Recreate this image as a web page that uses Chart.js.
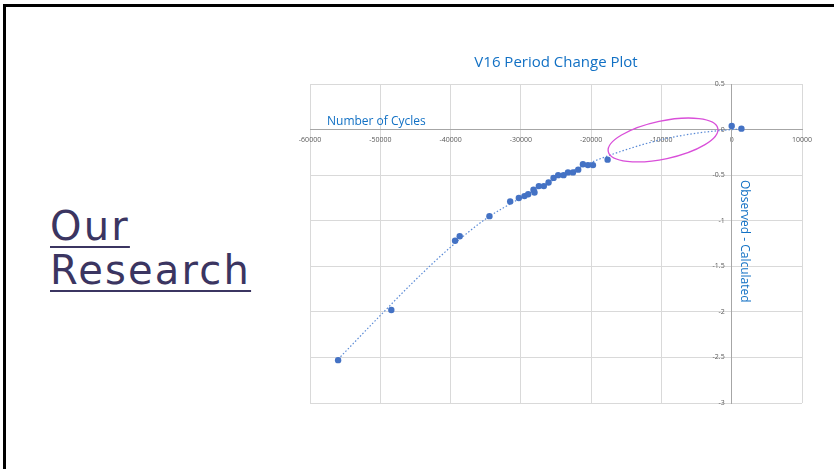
<!DOCTYPE html>
<html><head><meta charset="utf-8">
<script src="https://cdn.jsdelivr.net/npm/chart.js@4.4.1/dist/chart.umd.min.js"></script>
<style>
html,body{margin:0;padding:0;background:#fff;width:834px;height:469px;overflow:hidden;}
#frame{position:absolute;left:3px;top:4px;width:840px;height:480px;border-top:3px solid #000;border-left:3px solid #000;box-sizing:border-box;}
#c{position:absolute;left:0;top:0;}
.lbl{position:absolute;font-family:'Open Sans',sans-serif;color:#1170C4;white-space:nowrap;font-size:12px;line-height:16px;}
#ylab{left:737px;top:180px;writing-mode:vertical-rl;}
#xlab{left:327px;top:113px;}
#heading{position:absolute;left:50px;top:204px;font-family:'DejaVu Sans',sans-serif;font-size:40px;line-height:44px;letter-spacing:2.2px;color:#3B3561;}
#heading span{text-decoration:underline;text-decoration-thickness:2px;text-underline-offset:6px;}
</style></head>
<body>
<div id="frame"></div>
<div id="heading"><span>Our</span><br><span>Research</span></div>
<canvas id="c" width="834" height="469"></canvas>
<div class="lbl" id="xlab">Number of Cycles</div>
<div class="lbl" id="ylab">Observed - Calculated</div>
<script>
// observed points: cycle number (E) and O-C (days)
const cycles = [-56000,-48430,-39360,-38700,-34470,-31520,-30290,-29490,-28960,-28200,-28060,-27440,-26730,-26060,-25350,-24690,-23930,-23300,-22590,-21840,-21170,-20460,-19740,-17660,0,1380];
const oMinusC = [-2.53,-1.98,-1.22,-1.17,-0.95,-0.79,-0.75,-0.73,-0.71,-0.66,-0.69,-0.62,-0.62,-0.58,-0.53,-0.50,-0.50,-0.47,-0.47,-0.44,-0.38,-0.39,-0.39,-0.33,0.04,0.01];
// trendline
const trendCycles = [-56000,-50000,-45000,-40000,-35000,-30000,-25000,-20000,-15000,-10000,-5000,0,1400];
const trendValues = [-2.52,-2.04,-1.65,-1.29,-0.98,-0.75,-0.54,-0.36,-0.22,-0.11,-0.04,0.0,0.005];
const chartTitle = 'V16 Period Change Plot';

const pts = cycles.map((c,i)=>({x:c,y:oMinusC[i]}));
const trend = trendCycles.map((c,i)=>({x:c,y:trendValues[i]}));

const ellipseNote = {cx:-9770, cy:-0.114, rx:56, ry:19, angle:-12, color:'#D94FD9'};
const ellipsePlugin = {
  id:'ellipseNote',
  afterDatasetsDraw(chart){
    const {ctx, scales:{x,y}} = chart;
    ctx.save();
    ctx.beginPath();
    ctx.ellipse(x.getPixelForValue(ellipseNote.cx), y.getPixelForValue(ellipseNote.cy), ellipseNote.rx, ellipseNote.ry, ellipseNote.angle*Math.PI/180, 0, Math.PI*2);
    ctx.strokeStyle = ellipseNote.color;
    ctx.lineWidth = 1.3;
    ctx.stroke();
    ctx.restore();
  }
};

const tickFont = {family:'Open Sans', size:7};
new Chart(document.getElementById('c'), {
  type:'scatter',
  data:{datasets:[
    {data:pts, pointRadius:3.2, pointBackgroundColor:'#4472C4', pointBorderWidth:0, showLine:false, order:1},
    {data:trend, showLine:true, pointRadius:0, borderColor:'#5B8BD6', borderWidth:1.2, borderDash:[1.5,2], cubicInterpolationMode:'monotone', fill:false, order:2}
  ]},
  options:{
    responsive:false, animation:false, events:[],
    layout:{padding:{left:310, right:32, top:0, bottom:66}},
    plugins:{
      legend:{display:false}, tooltip:{enabled:false},
      title:{display:true, text:chartTitle, color:'#1170C4', font:{family:'Open Sans', size:15, weight:'normal'}, padding:{top:54, bottom:12}}
    },
    scales:{
      x:{type:'linear', position:{y:0}, min:-60000, max:10000,
         ticks:{stepSize:10000, font:tickFont, color:'#595959', padding:6, maxRotation:0, autoSkip:false, callback:v=>String(v)},
         grid:{color:'#d9d9d9', drawTicks:false}, border:{color:'#a6a6a6'}},
      y:{type:'linear', position:{x:0}, min:-3, max:0.5,
         ticks:{stepSize:0.5, font:tickFont, color:'#595959', autoSkip:false, callback:v=>String(Math.round(v*10)/10)+'\u2003'},
         grid:{color:'#d9d9d9', drawTicks:false}, border:{color:'#a6a6a6'}}
    }
  },
  plugins:[ellipsePlugin]
});
</script>
</body></html>
